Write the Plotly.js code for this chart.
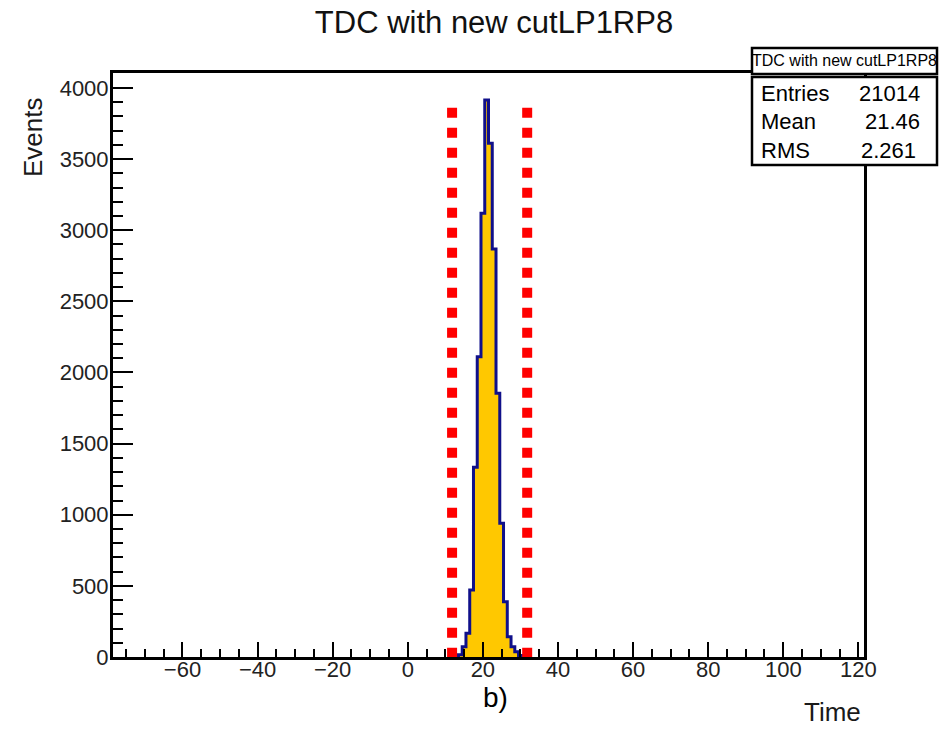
<!DOCTYPE html>
<html>
<head>
<meta charset="utf-8">
<script src="https://cdn.plot.ly/plotly-3.0.1.min.js"></script>
<style>html,body{margin:0;padding:0;background:#fff;}#chart{width:941px;height:730px;}</style>
</head>
<body>
<div id="chart"></div>
<script>
// ---- data ----
const binCenters = [13, 14, 15, 16, 17, 18, 19, 20, 21, 22, 23, 24, 25, 26, 27, 28, 29, 30, 31];
const binCounts  = [0, 15, 72, 167, 471, 1333, 2111, 3119, 3916, 3611, 2868, 1854, 940, 389, 143, 72, 37, 10, 0];
const cutPositions = [11.8, 31.8];
const cutTop = 3860;
const statLabels = ["Entries", "Mean", "RMS"];
const statValues = ["21014", "21.46", "2.261"];
const histName = "TDC with new cutLP1RP8";

// ---- geometry helpers (pixel -> paper) ----
const L = 113, R = 77, T = 73, B = 73, WIDTH = 941, HEIGHT = 730;
const PW = WIDTH - L - R, PH = HEIGHT - T - B;
const px = v => (v - L) / PW;
const py = v => (HEIGHT - B - v) / PH;
const FONT = "Liberation Sans, Arial, sans-serif";

const traces = [
  {
    type: "scatter", mode: "lines",
    x: binCenters, y: binCounts,
    line: {shape: "hvh", color: "#10108a", width: 3},
    fill: "tozeroy", fillcolor: "#ffc800",
    hoverinfo: "skip", showlegend: false
  }
];
cutPositions.forEach(c => {
  traces.push({
    type: "scatter", mode: "lines",
    x: [c, c], y: [cutTop, 0],
    line: {color: "#ff0000", width: 10, dash: "10px,10px"},
    hoverinfo: "skip", showlegend: false
  });
});

const annotations = [
  {text: "Events", xref: "paper", yref: "paper", x: px(33), y: py(137), textangle: -90,
   showarrow: false, xanchor: "center", yanchor: "middle", font: {family: FONT, size: 26, color: "#1a1a1a"}},
  {text: "Time", xref: "paper", yref: "paper", x: px(863), y: py(712),
   showarrow: false, xanchor: "right", yanchor: "middle", font: {family: FONT, size: 26, color: "#1a1a1a"}},
  {text: "b)", xref: "paper", yref: "paper", x: px(495), y: py(697),
   showarrow: false, xanchor: "center", yanchor: "middle", font: {family: FONT, size: 28, color: "#000"}},
  {text: histName, xref: "paper", yref: "paper", x: px(844), y: py(61),
   showarrow: false, xanchor: "center", yanchor: "middle", font: {family: FONT, size: 16, color: "#000"}}
];
const rowY = [93, 121, 150];
const valueRight = [922, 922, 918];
statLabels.forEach((lab, i) => {
  annotations.push({text: lab, xref: "paper", yref: "paper", x: px(759), y: py(rowY[i]),
    showarrow: false, xanchor: "left", yanchor: "middle", font: {family: FONT, size: 22, color: "#000"}});
  annotations.push({text: statValues[i], xref: "paper", yref: "paper", x: px(valueRight[i]), y: py(rowY[i]),
    showarrow: false, xanchor: "right", yanchor: "middle", font: {family: FONT, size: 22, color: "#000"}});
});

const shapes = [
  {type: "rect", xref: "paper", yref: "paper", x0: px(752), x1: px(937), y0: py(48), y1: py(74),
   line: {color: "#000", width: 2.5}, fillcolor: "#fff", layer: "above"},
  {type: "rect", xref: "paper", yref: "paper", x0: px(752), x1: px(937), y0: py(77), y1: py(165),
   line: {color: "#000", width: 2.5}, fillcolor: "#fff", layer: "above"}
];

const layout = {
  width: WIDTH, height: HEIGHT,
  margin: {l: L, r: R, t: T, b: B},
  paper_bgcolor: "#fff", plot_bgcolor: "#fff",
  title: {text: histName, x: 494 / WIDTH, xanchor: "center", xref: "container",
          y: 1 - 22 / HEIGHT, yref: "container", yanchor: "middle",
          font: {family: FONT, size: 31, color: "#111"}},
  xaxis: {
    range: [-78.5, 121.5], showgrid: false, zeroline: false,
    showline: true, linecolor: "#000", linewidth: 3, mirror: true,
    ticks: "inside", ticklen: 15, tickwidth: 2, tickcolor: "#000",
    dtick: 20, tick0: 0, ticklabelstandoff: -9,
    minor: {ticks: "inside", ticklen: 8, tickwidth: 2, tickcolor: "#000", dtick: 5, showgrid: false},
    tickfont: {family: FONT, size: 22, color: "#222"}
  },
  yaxis: {
    range: [0, 4105], showgrid: false, zeroline: false,
    showline: true, linecolor: "#000", linewidth: 3, mirror: true,
    ticks: "inside", ticklen: 20, tickwidth: 2, tickcolor: "#000",
    dtick: 500, tick0: 0, ticklabelstandoff: -3,
    minor: {ticks: "inside", ticklen: 10, tickwidth: 2, tickcolor: "#000", dtick: 100, showgrid: false},
    tickfont: {family: FONT, size: 22, color: "#222"}
  },
  annotations: annotations,
  shapes: shapes,
  showlegend: false
};

Plotly.newPlot("chart", traces, layout, {staticPlot: true, displayModeBar: false});
</script>
</body>
</html>
